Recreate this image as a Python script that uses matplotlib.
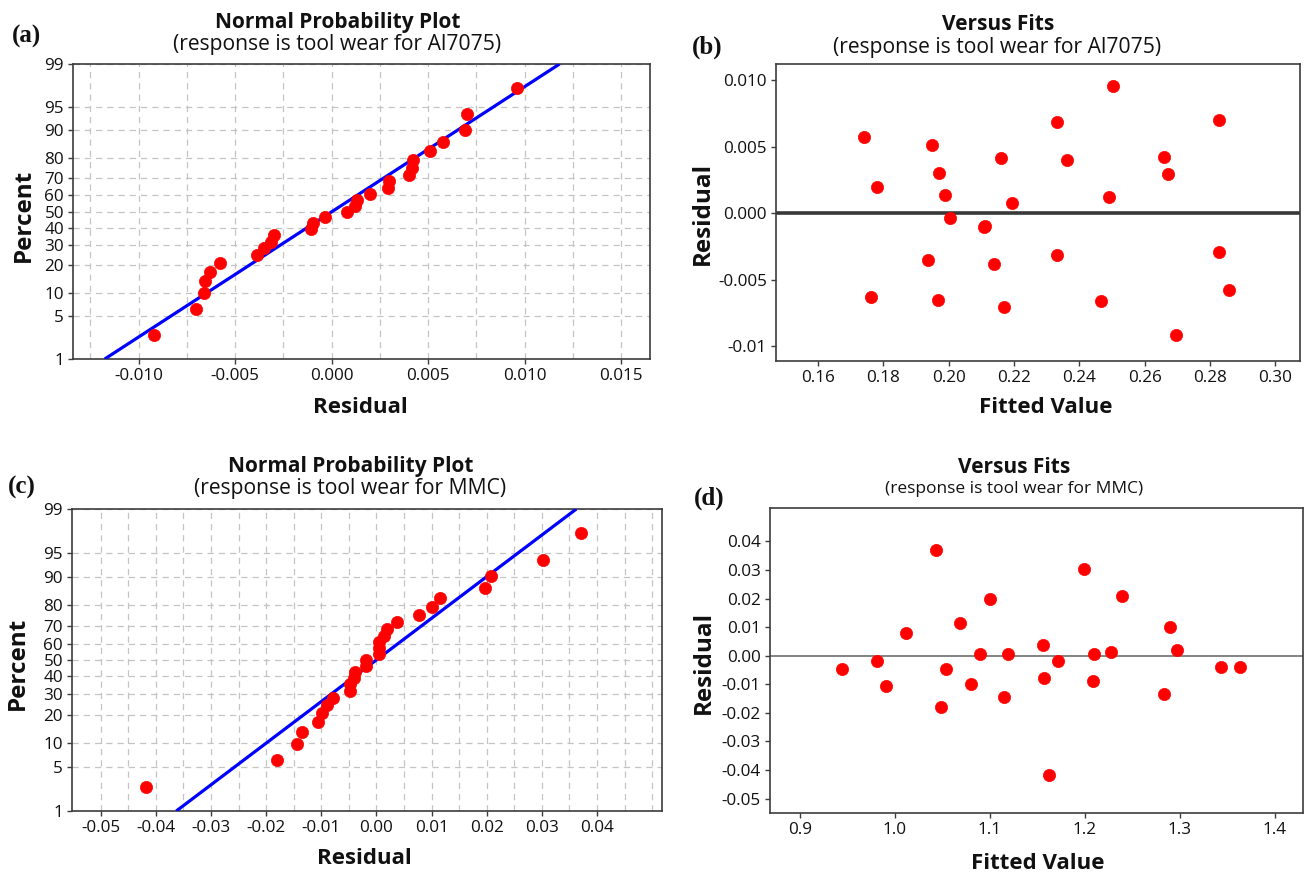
import matplotlib
matplotlib.use("Agg")
import matplotlib.pyplot as plt
from matplotlib import font_manager
from statistics import NormalDist
import numpy as np

W, H = 1304, 873
DPI = 100

# Residuals versus fitted values, tool wear for Al7075
al_fits = [0.1741, 0.1764, 0.1782, 0.1937, 0.1950, 0.1967, 0.1972, 0.1990, 0.2003,
           0.2110, 0.2108, 0.2140, 0.2160, 0.2171, 0.2193, 0.2332, 0.2332, 0.2361,
           0.2467, 0.2491, 0.2503, 0.2659, 0.2672, 0.2695, 0.2828, 0.2828, 0.2857]
al_resid = [0.00575, -0.0063, 0.0020, -0.0035, 0.0051, -0.00656, 0.0030, 0.00133, -0.00033,
            -0.00098, -0.00105, -0.00384, 0.00417, -0.00704, 0.0008, 0.0069, -0.00314, 0.0040,
            -0.00663, 0.00123, 0.0096, 0.00422, 0.00294, -0.0092, 0.00704, -0.00296, -0.00578]

# Residuals versus fitted values, tool wear for MMC
mmc_fits = [0.9447, 0.9810, 0.9908, 1.0123, 1.0434, 1.0490, 1.0544, 1.0684, 1.0800,
            1.0899, 1.1004, 1.1150, 1.1197, 1.1561, 1.1570, 1.1627, 1.1720, 1.1991,
            1.2088, 1.2100, 1.2280, 1.2390, 1.2833, 1.2900, 1.2970, 1.3430, 1.3636]
mmc_resid = [-0.0048, -0.0018, -0.0106, 0.0078, 0.0371, -0.0181, -0.0048, 0.0116, -0.0098,
             0.0005, 0.0197, -0.0144, 0.0005, 0.0037, -0.0078, -0.0417, -0.0018, 0.0303,
             -0.0090, 0.0005, 0.0013, 0.0208, -0.0135, 0.0100, 0.0020, -0.0039, -0.0041]

pct_ticks = [1, 5, 10, 20, 30, 40, 50, 60, 70, 80, 90, 95, 99]

a_xticks = [-0.010, -0.005, 0.000, 0.005, 0.010, 0.015]
a_xlabels = ["-0.010", "-0.005", "0.000", "0.005", "0.010", "0.015"]
b_xticks = [0.16, 0.18, 0.20, 0.22, 0.24, 0.26, 0.28, 0.30]
b_xlabels = ["0.16", "0.18", "0.20", "0.22", "0.24", "0.26", "0.28", "0.30"]
b_yticks = [0.010, 0.005, 0.000, -0.005, -0.010]
b_ylabels = ["0.010", "0.005", "0.000", "-0.005", "-0.01"]
c_xticks = [-0.05, -0.04, -0.03, -0.02, -0.01, 0.00, 0.01, 0.02, 0.03, 0.04]
c_xlabels = ["-0.05", "-0.04", "-0.03", "-0.02", "-0.01", "0.00", "0.01", "0.02", "0.03", "0.04"]
d_xticks = [0.9, 1.0, 1.1, 1.2, 1.3, 1.4]
d_xlabels = ["0.9", "1.0", "1.1", "1.2", "1.3", "1.4"]
d_yticks = [0.04, 0.03, 0.02, 0.01, 0.00, -0.01, -0.02, -0.03, -0.04, -0.05]
d_ylabels = ["0.04", "0.03", "0.02", "0.01", "0.00", "-0.01", "-0.02", "-0.03", "-0.04", "-0.05"]

available = {f.name for f in font_manager.fontManager.ttflist}


def pick(*names):
    for n in names:
        if n in available:
            return n
    return "DejaVu Sans"


SANS = pick("Open Sans", "Noto Sans", "DejaVu Sans")
SERIF = pick("Liberation Serif", "DejaVu Serif")

plt.rcParams["font.family"] = [SANS, "DejaVu Sans"]
plt.rcParams["axes.unicode_minus"] = False

SPINE = "#3c3c3c"
GRID = "#c4c4c4"
RED = "#ff0000"
BLUE = "#0000ff"
TICK_FS = 12.3
MS = 8.8

fig = plt.figure(figsize=(W / DPI, H / DPI), dpi=DPI)
fig.patch.set_facecolor("white")


def px_axes(l, t, r, b):
    return fig.add_axes([l / W, 1 - b / H, (r - l) / W, (b - t) / H])


def ftext(x, y, s, **kw):
    fig.text(x / W, 1 - y / H, s, **kw)


def style(ax):
    for sp in ax.spines.values():
        sp.set_color(SPINE)
        sp.set_linewidth(1.2)
    ax.tick_params(which="major", direction="out", length=3.5, width=1.0,
                   color=SPINE, labelsize=TICK_FS, labelcolor="#111111", pad=3)
    ax.tick_params(which="minor", length=0)
    ax.set_facecolor("white")


nd = NormalDist()


def normal_plot(ax, resid, xlim, major, labels, minor):
    r = np.sort(np.asarray(resid, dtype=float))
    n = len(r)
    p = (np.arange(1, n + 1) - 0.3) / (n + 0.4)
    z = np.array([nd.inv_cdf(v) for v in p])
    mu, sd = r.mean(), r.std(ddof=1)
    zlo, zhi = nd.inv_cdf(0.01), nd.inv_cdf(0.99)
    ax.plot([mu + sd * zlo, mu + sd * zhi], [zlo, zhi], color=BLUE, lw=2.3,
            solid_capstyle="butt", zorder=3)
    ax.plot(r, z, "o", ms=MS, color=RED, mec=RED, mew=0.5, zorder=4)
    ax.set_ylim(zlo, zhi)
    ax.set_yticks([nd.inv_cdf(t / 100) for t in pct_ticks])
    ax.set_yticklabels([str(t) for t in pct_ticks])
    ax.set_xticks(major)
    ax.set_xticklabels(labels)
    ax.set_xticks(minor, minor=True)
    ax.set_xlim(*xlim)
    ax.grid(True, which="both", axis="x", color=GRID, ls=(0, (5, 4)), lw=0.9, zorder=0)
    ax.grid(True, which="major", axis="y", color=GRID, ls=(0, (5, 4)), lw=0.9, zorder=0)
    ax.set_axisbelow(True)
    style(ax)


def fits_plot(ax, fits, resid, xlim, ylim, xt, xl, yt, yl, zero_color, zero_lw):
    ax.axhline(0, color=zero_color, lw=zero_lw, zorder=2)
    ax.plot(fits, resid, "o", ms=MS, color=RED, mec=RED, mew=0.5, zorder=4)
    ax.set_xlim(*xlim)
    ax.set_ylim(*ylim)
    ax.set_xticks(xt)
    ax.set_xticklabels(xl)
    ax.set_yticks(yt)
    ax.set_yticklabels(yl)
    style(ax)


# (a) normal probability plot, Al7075
ax_a = px_axes(73, 64, 650, 359)
normal_plot(ax_a, al_resid, (-0.0134, 0.0165), a_xticks, a_xlabels,
            np.arange(-0.0125, 0.0151, 0.0025))

# (b) residuals versus fits, Al7075
ax_b = px_axes(776, 64, 1300, 361)
fits_plot(ax_b, al_fits, al_resid, (0.1472, 0.3075), (-0.01113, 0.01123),
          b_xticks, b_xlabels, b_yticks, b_ylabels, "#383838", 2.6)

# (c) normal probability plot, MMC
ax_c = px_axes(72, 509, 662, 811)
normal_plot(ax_c, mmc_resid, (-0.0552, 0.0518), c_xticks, c_xlabels,
            np.arange(-0.05, 0.0501, 0.005))

# (d) residuals versus fits, MMC
ax_d = px_axes(770, 508, 1303, 813)
fits_plot(ax_d, mmc_fits, mmc_resid, (0.8688, 1.4296), (-0.05506, 0.0517),
          d_xticks, d_xlabels, d_yticks, d_ylabels, "#6e6e6e", 1.2)

# titles
TITLE = dict(fontsize=15, fontweight="bold", ha="center", va="baseline", color="#111111")
SUB = dict(fontsize=15.2, ha="center", va="baseline", color="#111111")
ftext(338, 28, "Normal Probability Plot", **TITLE)
ftext(337, 50, "(response is tool wear for Al7075)", **SUB)
ftext(998, 30, "Versus Fits", **TITLE)
ftext(997, 53, "(response is tool wear for Al7075)", **SUB)
ftext(351, 472, "Normal Probability Plot", **TITLE)
ftext(350, 494, "(response is tool wear for MMC)", **SUB)
ftext(1014, 473, "Versus Fits", **TITLE)
ftext(1014, 493, "(response is tool wear for MMC)",
      **{**SUB, "fontsize": 12.5})

# axis labels
XL = dict(fontsize=16, fontweight="bold", ha="center", va="baseline", color="#111111")
YL = dict(fontsize=17.5, fontweight="bold", ha="center", va="center", rotation=90,
          color="#111111")
ftext(360, 413, "Residual", **XL)
ftext(1046, 413, "Fitted Value", **XL)
ftext(364, 864, "Residual", **XL)
ftext(1038, 869, "Fitted Value", **XL)
ftext(24, 215, "Percent", **YL)
ftext(703, 213, "Residual", **YL)
ftext(18, 663, "Percent", **YL)
ftext(704, 662, "Residual", **YL)

# panel letters
PL = dict(fontsize=18, fontweight="bold", ha="center", va="center",
          family=[SERIF, "DejaVu Serif"], color="#111111")
ftext(27, 36, "(a)", **PL)
ftext(707, 47, "(b)", **PL)
ftext(22, 487, "(c)", **PL)
ftext(709, 498, "(d)", **PL)

fig.savefig("out.png", dpi=DPI, facecolor="white")
